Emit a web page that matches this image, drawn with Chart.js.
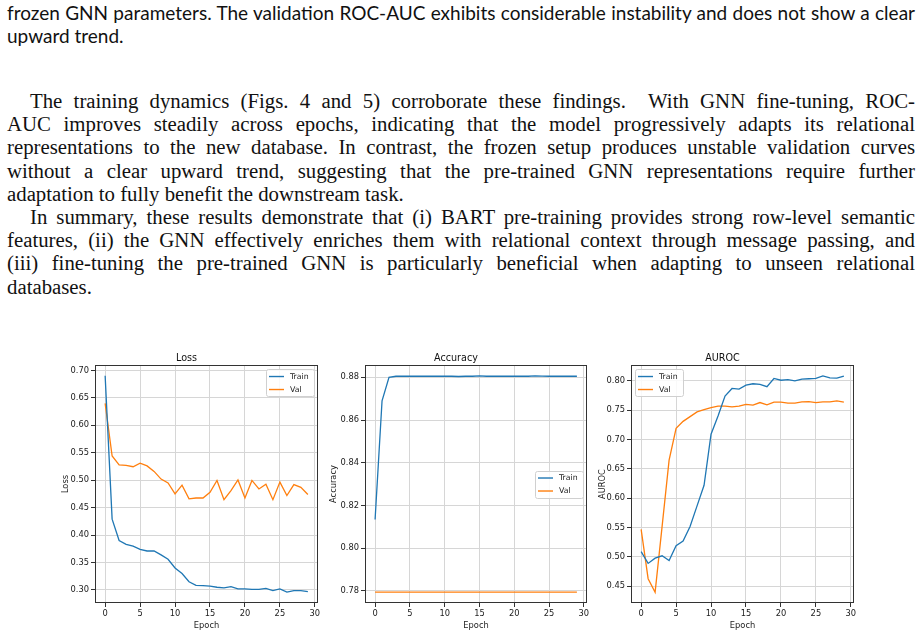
<!DOCTYPE html>
<html>
<head>
<meta charset="utf-8">
<script src="https://cdn.jsdelivr.net/npm/chart.js@4.4.1/dist/chart.umd.min.js"></script>
<style>
  html, body { margin: 0; padding: 0; background: #fff; }
  body { width: 920px; height: 635px; position: relative; overflow: hidden; }
  .block { position: absolute; left: 7px; width: 908px; color: #111; }
  .sans { font-family: Lato, "Liberation Sans", sans-serif; font-size: 19px; line-height: 23.2px; }
  .serif { font-family: "Liberation Serif", serif; font-size: 20.8px; line-height: 23.2px; }
  .ln { text-align: left; white-space: nowrap; }
  .full { text-align: justify; text-align-last: justify; white-space: normal; }
  .ind { text-indent: 23px; }
  canvas { position: absolute; top: 348px; }
</style>
</head>
<body>

<div class="block sans" style="top:1px">
  <div class="ln full">frozen GNN parameters. The validation ROC-AUC exhibits considerable instability and does not show a clear</div>
  <div class="ln">upward trend.</div>
</div>

<div class="block serif" style="top:89px">
  <div class="ln full ind">The training dynamics (Figs. 4 and 5) corroborate these findings.&nbsp; With GNN fine-tuning, ROC-</div>
  <div class="ln full">AUC improves steadily across epochs, indicating that the model progressively adapts its relational</div>
  <div class="ln full">representations to the new database. In contrast, the frozen setup produces unstable validation curves</div>
  <div class="ln full">without a clear upward trend, suggesting that the pre-trained GNN representations require further</div>
  <div class="ln">adaptation to fully benefit the downstream task.</div>
  <div class="ln full ind">In summary, these results demonstrate that (i) BART pre-training provides strong row-level semantic</div>
  <div class="ln full">features, (ii) the GNN effectively enriches them with relational context through message passing, and</div>
  <div class="ln full">(iii) fine-tuning the pre-trained GNN is particularly beneficial when adapting to unseen relational</div>
  <div class="ln">databases.</div>
</div>

<canvas id="lossChart" width="271" height="284" style="left:55px"></canvas>
<canvas id="accChart" width="270" height="284" style="left:325px"></canvas>
<canvas id="aucChart" width="271" height="284" style="left:591px"></canvas>

<script>
// epochs 0..29
const epochs = [0, 1, 2, 3, 4, 5, 6, 7, 8, 9, 10, 11, 12, 13, 14, 15, 16, 17, 18, 19, 20, 21, 22, 23, 24, 25, 26, 27, 28, 29];

const lossTrain = [0.690, 0.429, 0.390, 0.383, 0.380, 0.374, 0.371, 0.371, 0.364, 0.356,
                   0.340, 0.330, 0.315, 0.3085, 0.308, 0.307, 0.305, 0.304, 0.306, 0.302,
                   0.302, 0.301, 0.301, 0.303, 0.299, 0.302, 0.296, 0.299, 0.299, 0.297];
const lossVal = [0.640, 0.544, 0.528, 0.527, 0.5245, 0.531, 0.526, 0.516, 0.502, 0.495,
                 0.475, 0.491, 0.466, 0.4675, 0.4675, 0.478, 0.4995, 0.4645, 0.481, 0.5005,
                 0.4675, 0.4995, 0.484, 0.4925, 0.4645, 0.4965, 0.472, 0.492, 0.487, 0.474];

const accTrain = [0.8134, 0.869, 0.8800, 0.8805, 0.8805, 0.8805, 0.8805, 0.8805, 0.8805, 0.8805,
                  0.8805, 0.8805, 0.8804, 0.8805, 0.8805, 0.8807, 0.8805, 0.8805, 0.8805, 0.8805,
                  0.8805, 0.8805, 0.8805, 0.8807, 0.8806, 0.8805, 0.8805, 0.8805, 0.8805, 0.8805];
const accVal = [0.7793, 0.7793, 0.7793, 0.7793, 0.7793, 0.7793, 0.7793, 0.7793, 0.7793, 0.7793,
                0.7793, 0.7793, 0.7793, 0.7793, 0.7793, 0.7793, 0.7793, 0.7793, 0.7793, 0.7793,
                0.7793, 0.7793, 0.7793, 0.7793, 0.7793, 0.7793, 0.7793, 0.7793, 0.7793, 0.7793];

const aucTrain = [0.509, 0.489, 0.498, 0.502, 0.494, 0.519, 0.527, 0.552, 0.587, 0.622,
                  0.709, 0.740, 0.774, 0.787, 0.786, 0.7925, 0.795, 0.794, 0.790, 0.804,
                  0.801, 0.802, 0.800, 0.803, 0.8035, 0.804, 0.8085, 0.805, 0.8045, 0.808];
const aucVal = [0.547, 0.463, 0.440, 0.552, 0.665, 0.719, 0.731, 0.739, 0.747, 0.751,
                0.7545, 0.757, 0.757, 0.7557, 0.757, 0.760, 0.7585, 0.763, 0.759, 0.7637,
                0.7637, 0.762, 0.762, 0.764, 0.7645, 0.763, 0.764, 0.764, 0.766, 0.7637];

const xTicks = [0, 5, 10, 15, 20, 25, 30];
const lossTicks = [0.30, 0.35, 0.40, 0.45, 0.50, 0.55, 0.60, 0.65, 0.70];
const accTicks = [0.78, 0.80, 0.82, 0.84, 0.86, 0.88];
const aucTicks = [0.45, 0.50, 0.55, 0.60, 0.65, 0.70, 0.75, 0.80];

const BLUE = '#1f77b4';
const ORANGE = '#ff7f0e';
const FONT = 'DejaVu Sans';

// matplotlib-like frame round the axes
const framePlugin = {
    id: 'frame',
    afterDatasetsDraw(chart) {
        const a = chart.chartArea, ctx = chart.ctx;
        ctx.save();
        ctx.strokeStyle = '#333';
        ctx.lineWidth = 1;
        ctx.strokeRect(Math.round(a.left) + 0.5, Math.round(a.top) + 0.5,
                       Math.round(a.right - a.left) - 1, Math.round(a.bottom - a.top) - 1);
        ctx.restore();
    }
};

// legend box inside the axes, like plt.legend()
const boxLegend = {
    id: 'boxLegend',
    afterDraw(chart, args, opts) {
        const a = chart.chartArea, ctx = chart.ctx;
        const w = 48, h = 27, inset = 4;
        let x = a.right - inset - w, y = a.top + inset;
        if (opts.where === 'ul') x = a.left + inset;
        if (opts.where === 'cr') y = (a.top + a.bottom) / 2 - h / 2;
        ctx.save();
        ctx.fillStyle = 'rgba(255,255,255,0.85)';
        ctx.strokeStyle = '#d0d0d0';
        ctx.lineWidth = 1;
        ctx.beginPath();
        ctx.roundRect(Math.round(x) + 0.5, Math.round(y) + 0.5, w, h, 2);
        ctx.fill();
        ctx.stroke();
        ctx.font = '7.8px "' + FONT + '"';
        ctx.textBaseline = 'middle';
        chart.data.datasets.forEach((ds, i) => {
            const cy = y + 7.5 + i * 13;
            ctx.strokeStyle = ds.borderColor;
            ctx.lineWidth = 1.4;
            ctx.beginPath();
            ctx.moveTo(x + 3, cy);
            ctx.lineTo(x + 18, cy);
            ctx.stroke();
            ctx.fillStyle = '#222';
            ctx.fillText(ds.label, x + 24, cy);
        });
        ctx.restore();
    }
};

function points(ys) {
    return epochs.map((e, i) => ({ x: e, y: ys[i] }));
}

// axis limits padded by 5% like matplotlib autoscale
function limits(arrs) {
    const all = [].concat(...arrs);
    const lo = Math.min(...all), hi = Math.max(...all);
    const pad = (hi - lo) * 0.05;
    return [lo - pad, hi + pad];
}

function makeChart(id, title, yLabel, train, val, yTicks, where, yTitlePad) {
    const [ymin, ymax] = limits([train, val]);
    const xpad = (epochs[epochs.length - 1] - epochs[0]) * 0.05;
    return new Chart(document.getElementById(id), {
        type: 'line',
        data: {
            datasets: [
                { label: 'Train', data: points(train), borderColor: BLUE, borderWidth: 1.3, pointRadius: 0, tension: 0 },
                { label: 'Val', data: points(val), borderColor: ORANGE, borderWidth: 1.3, pointRadius: 0, tension: 0 }
            ]
        },
        options: {
            responsive: false,
            animation: false,
            layout: { padding: { left: 0, right: 8, top: 0, bottom: 0 } },
            plugins: {
                legend: { display: false },
                tooltip: { enabled: false },
                title: {
                    display: true,
                    text: title,
                    color: '#111',
                    font: { family: FONT, size: 9.6, weight: 'normal' },
                    padding: { top: 5, bottom: 0.5 }
                },
                boxLegend: { where: where }
            },
            scales: {
                x: {
                    type: 'linear',
                    min: epochs[0] - xpad,
                    max: epochs[epochs.length - 1] + xpad,
                    afterBuildTicks: s => { s.ticks = xTicks.map(v => ({ value: v })); },
                    afterFit: s => { s.height = 29; },
                    ticks: { color: '#222', font: { family: FONT, size: 8.3 }, padding: 2, maxRotation: 0, autoSkip: false },
                    grid: { color: '#d6d6d6', lineWidth: 1, tickColor: '#333', tickLength: 4, tickWidth: 1 },
                    border: { display: false },
                    title: { display: true, text: 'Epoch', color: '#222', font: { family: FONT, size: 8.3 }, padding: { top: 1, bottom: 1 } }
                },
                y: {
                    min: ymin,
                    max: ymax,
                    afterBuildTicks: s => { s.ticks = yTicks.map(v => ({ value: v })); },
                    afterFit: s => { s.width = 40; },
                    ticks: { color: '#222', font: { family: FONT, size: 8.3 }, padding: 2, autoSkip: false,
                             callback: v => v.toFixed(2) },
                    grid: { color: '#d6d6d6', lineWidth: 1, tickColor: '#333', tickLength: 4, tickWidth: 1 },
                    border: { display: false },
                    title: { display: true, text: yLabel, color: '#222', font: { family: FONT, size: 8.3 },
                             padding: { top: yTitlePad, bottom: yTitlePad } }
                }
            }
        },
        plugins: [framePlugin, boxLegend]
    });
}

makeChart('lossChart', 'Loss', 'Loss', lossTrain, lossVal, lossTicks, 'ur', 5.5);
makeChart('accChart', 'Accuracy', 'Accuracy', accTrain, accVal, accTicks, 'cr', 3.5);
makeChart('aucChart', 'AUROC', 'AUROC', aucTrain, aucVal, aucTicks, 'ul', 6.5);
</script>
</body>
</html>
